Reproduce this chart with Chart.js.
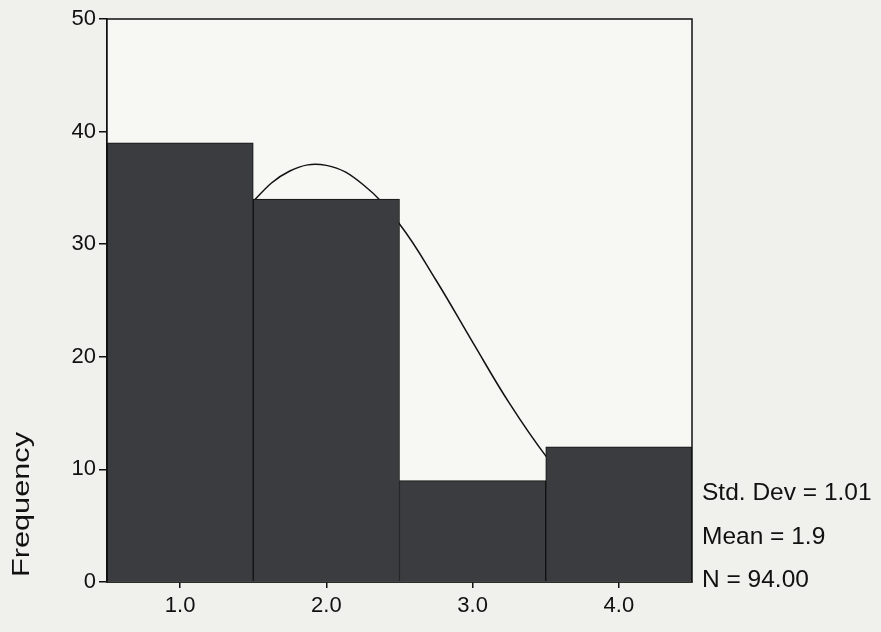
<!DOCTYPE html>
<html>
<head>
<meta charset="utf-8">
<script src="https://cdn.jsdelivr.net/npm/chart.js@4/dist/chart.umd.min.js"></script>
<style>
  html, body { margin: 0; padding: 0; background: #f0f0ec; }
  #wrap { width: 881px; height: 632px; position: relative; }
</style>
</head>
<body>
<div id="wrap"><canvas id="c" width="881" height="632"></canvas></div>
<script>
// ---- data ----
const binCenters = [1, 2, 3, 4];
const frequencies = [39, 34, 9, 12];
const xTickValues = [1, 2, 3, 4];
const yTickValues = [0, 10, 20, 30, 40, 50];
// fitted normal curve
const curveX = [0.5, 0.75, 1.0, 1.25, 1.5, 1.75, 2.0, 2.25, 2.5, 2.75, 3.0, 3.25, 3.5, 3.75, 4.0, 4.25, 4.5];
const curveY = [13.5, 18.6, 24.1, 29.5, 33.8, 36.5, 37.0, 35.3, 31.8, 26.8, 21.3, 15.9, 11.2, 7.4, 4.6, 2.7, 1.5];
const statsLines = ['Std. Dev = 1.01', 'Mean = 1.9', 'N = 94.00'];
const yTitle = 'Frequency';

const FONT = '"Liberation Sans", Arial, sans-serif';

const framePlugin = {
  id: 'frame',
  beforeDatasetsDraw(chart) {
    const { ctx, chartArea: a } = chart;
    ctx.save();
    ctx.fillStyle = '#f7f7f4';
    ctx.fillRect(a.left, a.top, a.right - a.left, a.bottom - a.top);
    ctx.restore();
  },
  afterDraw(chart) {
    const { ctx, chartArea: a } = chart;
    ctx.save();
    ctx.strokeStyle = '#111';
    ctx.lineWidth = 1.5;
    ctx.strokeRect(a.left, a.top, a.right - a.left, a.bottom - a.top);
    // y-axis title (stretched along its reading direction, as in the print)
    ctx.fillStyle = '#111';
    ctx.font = '24px ' + FONT;
    const w = ctx.measureText(yTitle).width;
    ctx.translate(29, 577);
    ctx.rotate(-Math.PI / 2);
    ctx.scale(145 / w, 1);
    ctx.textAlign = 'left';
    ctx.textBaseline = 'alphabetic';
    ctx.fillText(yTitle, 0, 0);
    ctx.restore();
    // statistics block
    ctx.save();
    ctx.fillStyle = '#111';
    ctx.font = '24.5px ' + FONT;
    ctx.textAlign = 'left';
    ctx.textBaseline = 'alphabetic';
    const baselines = [500, 544, 587];
    statsLines.forEach((s, i) => ctx.fillText(s, a.right + 10, baselines[i]));
    ctx.restore();
  }
};

new Chart(document.getElementById('c'), {
  data: {
    datasets: [
      {
        type: 'bar',
        data: binCenters.map((x, i) => ({ x: x, y: frequencies[i] })),
        backgroundColor: '#3b3c3f',
        borderColor: '#111',
        borderWidth: 1,
        barPercentage: 1.0,
        categoryPercentage: 1.0,
        order: 1
      },
      {
        type: 'line',
        data: curveX.map((x, i) => ({ x: x, y: curveY[i] })),
        borderColor: '#111',
        borderWidth: 1.5,
        pointRadius: 0,
        tension: 0.4,
        fill: false,
        order: 2
      }
    ]
  },
  options: {
    responsive: false,
    animation: false,
    devicePixelRatio: 1,
    layout: { padding: { top: 19, right: 189, left: 0, bottom: 0 } },
    plugins: { legend: { display: false }, tooltip: { enabled: false }, title: { display: false } },
    scales: {
      x: {
        type: 'linear',
        min: 0.5,
        max: 4.5,
        offset: false,
        afterBuildTicks(axis) { axis.ticks = xTickValues.map(v => ({ value: v })); },
        afterFit(scale) { scale.height = 50; },
        grid: { offset: false, drawOnChartArea: false, drawTicks: true, tickLength: 6, color: '#111', lineWidth: 1.5 },
        border: { display: true, color: '#111', width: 1.5 },
        ticks: {
          color: '#111',
          padding: 5,
          maxRotation: 0,
          font: { family: FONT, size: 22 },
          callback: v => Number(v).toFixed(1)
        }
      },
      y: {
        type: 'linear',
        min: 0,
        max: 50,
        afterBuildTicks(axis) { axis.ticks = yTickValues.map(v => ({ value: v })); },
        afterFit(scale) { scale.width = 107; },
        grid: { drawOnChartArea: false, drawTicks: true, tickLength: 8, color: '#111', lineWidth: 1.5 },
        border: { display: true, color: '#111', width: 1.5 },
        ticks: {
          color: '#111',
          padding: 3,
          font: { family: FONT, size: 22 },
          callback: v => String(v)
        }
      }
    }
  },
  plugins: [framePlugin]
});
</script>
</body>
</html>
